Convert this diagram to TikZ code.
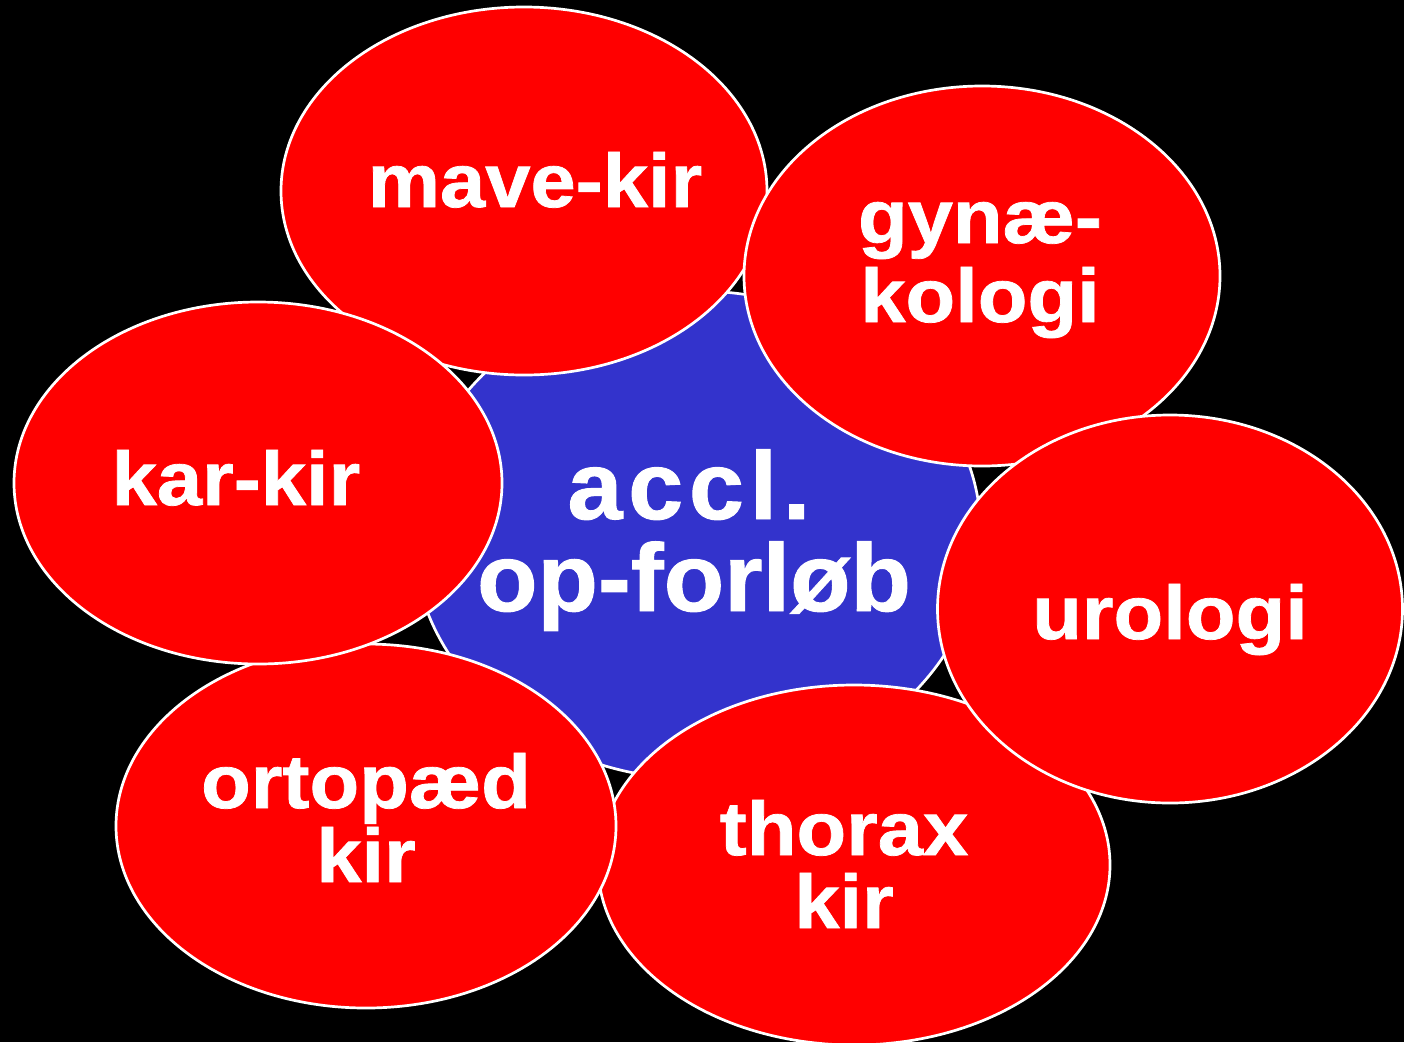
\documentclass[tikz,border=0pt]{standalone}
\usepackage{fontspec}
\setmainfont{Liberation Sans}
\newfontfamily\lblfont[FakeStretch=1.07,FakeBold=1]{Liberation Sans Bold}
\newfontfamily\hubfont[FakeStretch=1.03,FakeBold=1]{Liberation Sans Bold}
\newfontfamily\hubwidefont[FakeStretch=1.03,FakeBold=1,LetterSpace=6]{Liberation Sans Bold}
\usetikzlibrary{shapes.geometric}
\definecolor{redC}{HTML}{FF0000}
\definecolor{blueC}{HTML}{3333CC}
\begin{document}
\begin{tikzpicture}[x=1pt,y=-1pt,
  blob/.style={ellipse, draw=white, line width=2.7pt, fill=redC, inner sep=0pt, outer sep=0pt},
  lbl/.style={anchor=base, text=white, inner sep=0pt, font=\lblfont\fontsize{76}{76}\selectfont},
  biglbl/.style={anchor=base, text=white, inner sep=0pt, font=\hubfont\fontsize{96}{96}\selectfont}]
\fill[black] (0,0) rectangle (1404,1042);
\useasboundingbox (0,0) rectangle (1404,1042);
% centre
\node[blob, fill=blueC, minimum width=568pt, minimum height=488pt] (hub) at (697,535) {};
% surrounding ellipses (stacking order as in reference)
\node[blob, minimum width=512pt, minimum height=360pt] (thorax) at (854,865) {};
\node[blob, minimum width=500pt, minimum height=364pt] (orto) at (366,826) {};
\node[blob, minimum width=486pt, minimum height=368pt] (mave) at (524,191) {};
\node[blob, minimum width=488pt, minimum height=362pt] (kar) at (258,483) {};
\node[blob, minimum width=476pt, minimum height=380pt] (gyn) at (982,276) {};
\node[blob, minimum width=465pt, minimum height=388pt] (uro) at (1170,609) {};
% labels
\node[biglbl, font=\hubwidefont\fontsize{96}{96}\selectfont] (hubA) at (689,519) {accl.};
\node[biglbl] (hubB) at (694,611) {op-forløb};
\node[lbl] (maveT) at (535,207) {mave-kir};
\node[lbl] (gynA) at (980,243) {gynæ-};
\node[lbl] (gynB) at (980,322) {kologi};
\node[lbl] (karT) at (236,505) {kar-kir};
\node[lbl] (uroT) at (1170,639) {urologi};
\node[lbl] (ortoA) at (366,808) {ortopæd};
\node[lbl] (ortoB) at (366,882) {kir};
\node[lbl] (thoA) at (844,855) {thorax};
\node[lbl] (thoB) at (844,928) {kir};
\end{tikzpicture}
\end{document}
